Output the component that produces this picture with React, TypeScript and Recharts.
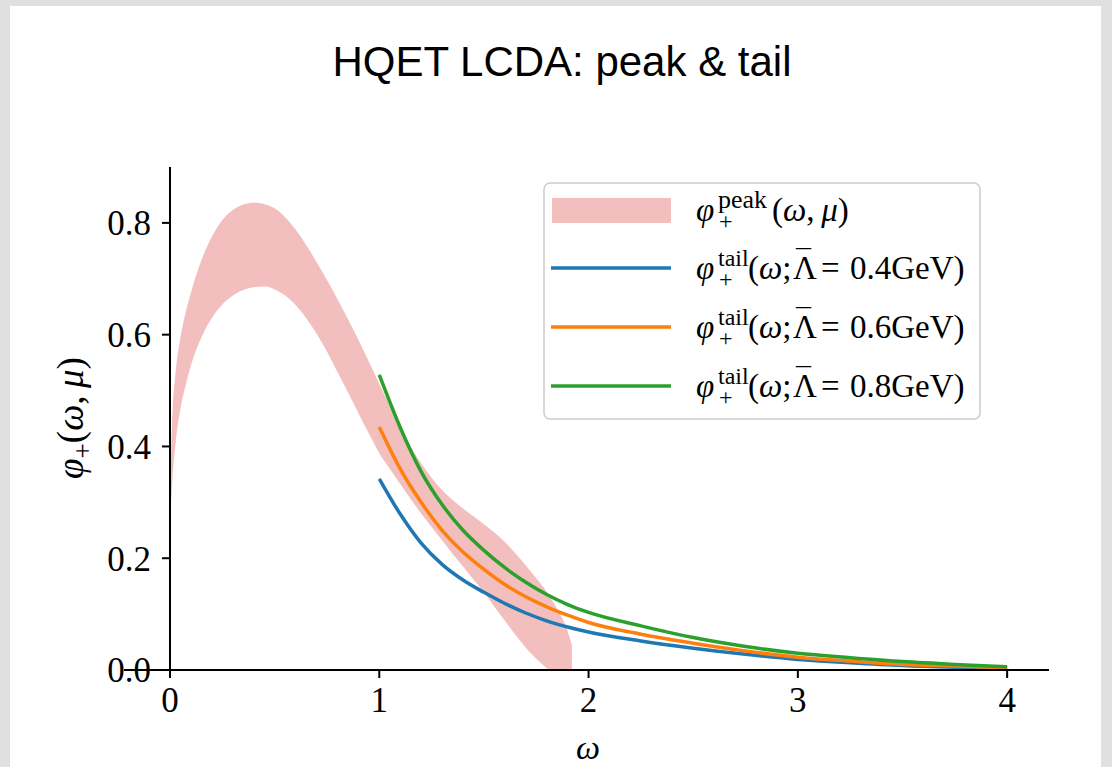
import React from "react";
import {
  ComposedChart,
  Area,
  Line,
  XAxis,
  YAxis,
  Legend,
  ReferenceLine,
} from "recharts";

// peak band (lower / upper edge)
const bandOmega = [
  0, 0.003, 0.01, 0.025, 0.05, 0.075, 0.1, 0.15, 0.2, 0.25, 0.3, 0.35, 0.4, 0.45, 0.5, 0.55, 0.6, 0.65,
  0.7, 0.75, 0.8, 0.85, 0.9, 0.95, 1.0, 1.05, 1.1, 1.15, 1.2, 1.25, 1.3, 1.35, 1.4, 1.45, 1.5, 1.55,
  1.6, 1.65, 1.7, 1.75, 1.8, 1.85, 1.9, 1.92,
];
const bandLow = [
  0.19, 0.27, 0.33, 0.4, 0.468, 0.51, 0.545, 0.595, 0.63, 0.654, 0.67, 0.68, 0.685, 0.686, 0.681, 0.67,
  0.653, 0.63, 0.602, 0.57, 0.533, 0.497, 0.46, 0.423, 0.388, 0.36, 0.333, 0.306, 0.28, 0.256, 0.232,
  0.208, 0.185, 0.162, 0.139, 0.113, 0.088, 0.063, 0.04, 0.02, 0.003, -0.015, -0.035, -0.045,
];
const bandHigh = [
  0.21, 0.34, 0.44, 0.525, 0.595, 0.64, 0.675, 0.733, 0.775, 0.805, 0.823, 0.833, 0.836, 0.834, 0.826,
  0.81, 0.788, 0.761, 0.73, 0.698, 0.664, 0.628, 0.591, 0.552, 0.512, 0.472, 0.435, 0.4, 0.37, 0.344,
  0.322, 0.304, 0.289, 0.275, 0.261, 0.246, 0.229, 0.209, 0.187, 0.164, 0.14, 0.109, 0.07, 0.045,
];

// tail curves for three Lambda-bar values
const tailOmega = [1.0, 1.1, 1.2, 1.3, 1.4, 1.5, 1.6, 1.7, 1.8, 1.9, 2.0, 2.25, 2.5, 2.75, 3.0, 3.25, 3.5, 3.75, 4.0];
const tail04 = [0.342, 0.279, 0.227, 0.189, 0.161, 0.139, 0.119, 0.102, 0.088, 0.077, 0.068, 0.052, 0.039, 0.028, 0.019, 0.013, 0.008, 0.005, 0.003];
const tail06 = [0.435, 0.36, 0.3, 0.25, 0.211, 0.18, 0.153, 0.131, 0.113, 0.098, 0.085, 0.064, 0.048, 0.034, 0.023, 0.016, 0.01, 0.007, 0.004];
const tail08 = [0.528, 0.434, 0.355, 0.296, 0.25, 0.214, 0.183, 0.157, 0.135, 0.117, 0.103, 0.079, 0.058, 0.042, 0.03, 0.022, 0.015, 0.01, 0.006];
const lambdaLabels = ["0.4", "0.6", "0.8"];

const xTicks = [0, 1, 2, 3, 4];
const yTicks = [0, 0.2, 0.4, 0.6, 0.8];

const BAND = "#d62728";
const COLORS = ["#1f77b4", "#ff7f0e", "#2ca02c"];
const SERIF = '"Liberation Serif", "Times New Roman", serif';

const bandRows = bandOmega.map((w, i) => ({ w, range: [bandLow[i], bandHigh[i]] }));
const tailRows = (vals: number[]) => tailOmega.map((w, i) => ({ w, v: vals[i] }));
const tails = [tail04, tail06, tail08].map(tailRows);

const LegendBox = () => (
  <svg width={440} height={240} style={{ display: "block" }}>
    <rect x={1} y={1} width={436} height={236} rx={6} fill="#fff" fillOpacity={0.8} stroke="#cccccc" strokeWidth={1.5} />
    <rect x={9} y={16} width={119} height={25} fill={BAND} fillOpacity={0.3} />
    <text x={153} y={39} fontFamily={SERIF} fontSize={33} fill="#000">
      <tspan fontStyle="italic">φ</tspan>
      <tspan x={175} dy={-13} fontSize={26}>peak</tspan>
      <tspan x={176} dy={21} fontSize={24}>+</tspan>
      <tspan x={229} dy={-8}>(</tspan>
      <tspan fontStyle="italic">ω</tspan>
      <tspan>,{"\u2009"}</tspan>
      <tspan fontStyle="italic">μ</tspan>
      <tspan>)</tspan>
    </text>
    {lambdaLabels.map((lam, i) => {
      const cy = 86 + i * 59;
      const base = cy + 11;
      return (
        <g key={lam}>
          <line x1={8} x2={128} y1={cy} y2={cy} stroke={COLORS[i]} strokeWidth={3.5} />
          <text x={153} y={base} fontFamily={SERIF} fontSize={33} fill="#000">
            <tspan fontStyle="italic">φ</tspan>
            <tspan x={175} dy={-13} fontSize={24}>tail</tspan>
            <tspan x={176} dy={21} fontSize={24}>+</tspan>
            <tspan x={205} dy={-8}>(</tspan>
            <tspan fontStyle="italic">ω</tspan>
            <tspan>;</tspan>
            <tspan x={250}>Λ</tspan>
            <tspan x={253} dy={-9} fontSize={30}>¯</tspan>
            <tspan x={278} dy={9}>=</tspan>
            <tspan x={307}>{lam}GeV)</tspan>
          </text>
        </g>
      );
    })}
  </svg>
);

const YTitle = () => (
  <text
    transform="translate(83, 418) rotate(-90)"
    textAnchor="middle"
    fontFamily={SERIF}
    fontSize={37}
    fill="#000"
  >
    <tspan fontStyle="italic">φ</tspan>
    <tspan fontSize={27} dy={9}>+</tspan>
    <tspan dy={-9}>(</tspan>
    <tspan fontStyle="italic">ω</tspan>
    <tspan>,{"\u2009"}</tspan>
    <tspan fontStyle="italic">μ</tspan>
    <tspan>)</tspan>
  </text>
);

const XTitle = () => (
  <text x={588} y={759} textAnchor="middle" fontFamily={SERIF} fontSize={34} fontStyle="italic" fill="#000">
    ω
  </text>
);

const tickStyle = { fontFamily: SERIF, fontSize: 35, fill: "#000" };

export default function App() {
  return (
    <div style={{ position: "absolute", left: 0, top: 0, width: 1112, height: 767, background: "#e0e0e0", overflow: "hidden" }}>
      <div style={{ position: "absolute", left: 10, top: 6, width: 1091, height: 761, background: "#fff" }} />
      <div
        style={{
          position: "absolute",
          left: 0,
          top: 41,
          width: 1124,
          textAlign: "center",
          fontFamily: '"Liberation Sans", Arial, sans-serif',
          fontSize: 42,
          lineHeight: "42px",
          color: "#000",
        }}
      >
        HQET LCDA: peak &amp; tail
      </div>
      <div style={{ position: "absolute", left: 0, top: 0 }}>
        <ComposedChart width={1112} height={767} margin={{ top: 167, right: 63, bottom: 37, left: 110 }}>
          <XAxis
            dataKey="w"
            type="number"
            domain={[0, 4.2]}
            allowDataOverflow
            ticks={xTicks}
            tickFormatter={(v: number) => String(v)}
            height={60}
            tickSize={8}
            tickMargin={9}
            tick={tickStyle}
            axisLine={{ stroke: "#000", strokeWidth: 2 }}
            tickLine={{ stroke: "#000", strokeWidth: 2 }}
            label={{ content: () => <XTitle /> }}
          />
          <YAxis
            type="number"
            domain={[0, 0.9]}
            allowDataOverflow
            ticks={yTicks}
            tickFormatter={(v: number) => v.toFixed(1)}
            width={60}
            tickSize={8}
            tickMargin={11}
            tick={tickStyle}
            axisLine={{ stroke: "#000", strokeWidth: 2 }}
            tickLine={{ stroke: "#000", strokeWidth: 2 }}
            label={{ content: () => <YTitle /> }}
          />
          <Area
            data={bandRows}
            dataKey="range"
            type="monotone"
            stroke="none"
            fill={BAND}
            fillOpacity={0.3}
            isAnimationActive={false}
          />
          {tails.map((rows, i) => (
            <Line
              key={lambdaLabels[i]}
              data={rows}
              dataKey="v"
              type="monotone"
              stroke={COLORS[i]}
              strokeWidth={3.5}
              dot={false}
              activeDot={false}
              isAnimationActive={false}
            />
          ))}
          <ReferenceLine
            segment={[{ x: -0.22, y: 0 }, { x: 4.2, y: 0 }]}
            stroke="#000"
            strokeWidth={2}
            ifOverflow="visible"
          />
          <Legend
            layout="horizontal"
            verticalAlign="middle"
            align="center"
            content={() => <LegendBox />}
            wrapperStyle={{ position: "absolute", left: 543, top: 182, width: 440, height: 240 }}
          />
        </ComposedChart>
      </div>
    </div>
  );
}
